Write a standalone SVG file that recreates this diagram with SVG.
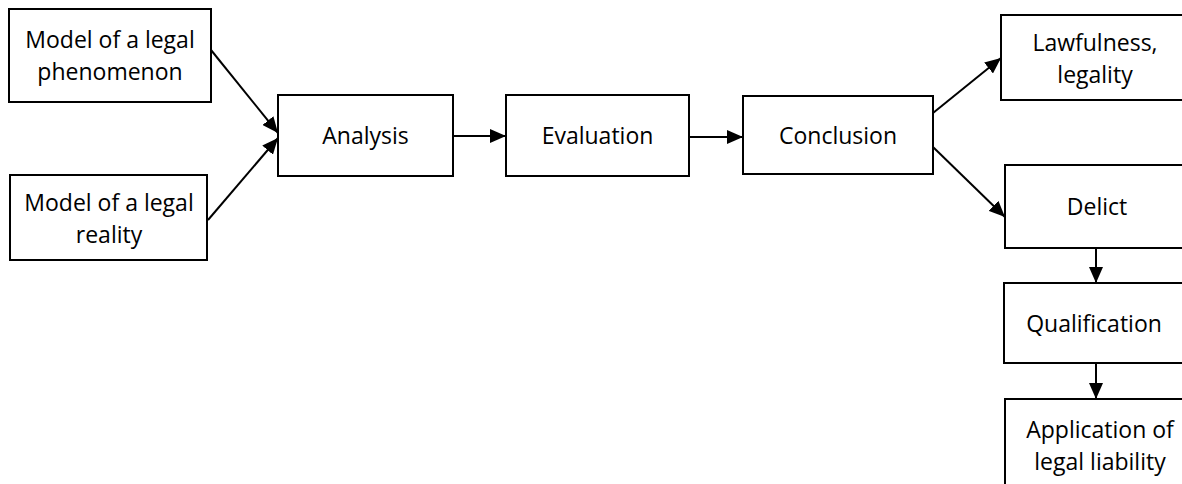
<svg xmlns="http://www.w3.org/2000/svg" width="1182" height="484" viewBox="0 0 1182 484">
<style>
.box{fill:#fff;stroke:#000;stroke-width:2}
.lbl{font-family:"Open Sans","Noto Sans","Liberation Sans",sans-serif;font-size:23px;fill:#000;text-anchor:middle}
.con{stroke:#000;stroke-width:2;fill:none;marker-end:url(#ah)}
</style>
<defs>
<marker id="ah" markerUnits="userSpaceOnUse" markerWidth="16" markerHeight="14" refX="16" refY="7" orient="auto">
<path d="M0,0 L16,7 L0,14 z" fill="#000"/>
</marker>
</defs>
<rect width="1182" height="484" fill="#fff"/>
<g id="connectors">
<line class="con" x1="211" y1="50" x2="278" y2="133"/>
<line class="con" x1="208" y1="220" x2="278" y2="138"/>
<line class="con" x1="453" y1="136" x2="506" y2="136"/>
<line class="con" x1="689" y1="137" x2="743" y2="137"/>
<line class="con" x1="933" y1="113" x2="1001" y2="58"/>
<line class="con" x1="933" y1="147" x2="1005" y2="217"/>
<line class="con" x1="1096" y1="248" x2="1096" y2="283"/>
<line class="con" x1="1096" y1="363" x2="1096" y2="399"/>
</g>
<g id="model-phenomenon">
<rect class="box" x="9" y="9" width="202" height="93"/>
<text class="lbl" x="110" y="48">Model of a legal</text>
<text class="lbl" x="110" y="80">phenomenon</text>
</g>
<g id="model-reality">
<rect class="box" x="10" y="175" width="197" height="85"/>
<text class="lbl" x="109" y="211">Model of a legal</text>
<text class="lbl" x="109" y="243">reality</text>
</g>
<g id="analysis">
<rect class="box" x="278" y="95" width="175" height="81"/>
<text class="lbl" x="365.5" y="144">Analysis</text>
</g>
<g id="evaluation">
<rect class="box" x="506" y="95" width="183" height="81"/>
<text class="lbl" x="597.5" y="144">Evaluation</text>
</g>
<g id="conclusion">
<rect class="box" x="743" y="96" width="190" height="78"/>
<text class="lbl" x="838" y="144">Conclusion</text>
</g>
<g id="lawfulness">
<rect class="box" x="1001" y="15" width="195" height="85"/>
<text class="lbl" x="1095" y="51">Lawfulness,</text>
<text class="lbl" x="1095" y="83">legality</text>
</g>
<g id="delict">
<rect class="box" x="1005" y="165" width="191" height="83"/>
<text class="lbl" x="1097" y="215">Delict</text>
</g>
<g id="qualification">
<rect class="box" x="1004" y="283" width="192" height="80"/>
<text class="lbl" x="1094" y="332">Qualification</text>
</g>
<g id="application">
<rect class="box" x="1005" y="399" width="191" height="100"/>
<text class="lbl" x="1100" y="438">Application of</text>
<text class="lbl" x="1100" y="470">legal liability</text>
</g>
</svg>
